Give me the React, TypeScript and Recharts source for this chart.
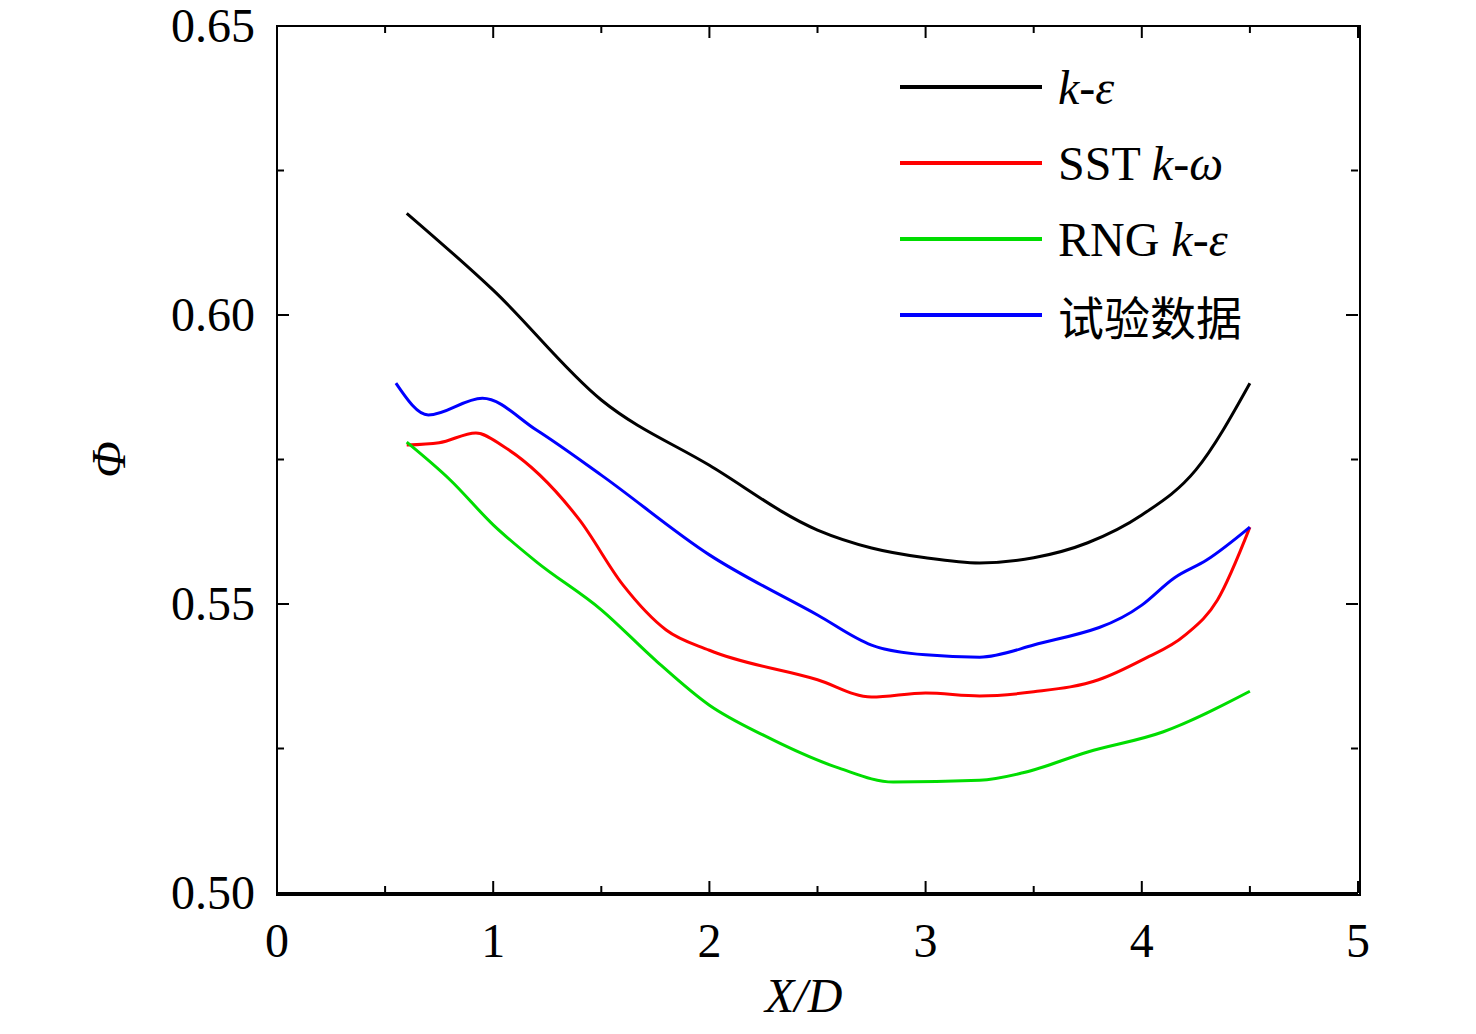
import React from "react";
import { LineChart, Line, XAxis, YAxis } from "recharts";

const kEps = [[0.6,0.6176],[1,0.6043],[1.5,0.5853],[2,0.574],[2.5,0.5628],[2.75,0.5597],[3,0.558],[3.25,0.5571],[3.5,0.558],[3.75,0.5606],[4,0.5654],[4.25,0.5732],[4.5,0.5882]];
const exp = [[0.55,0.5882],[0.7,0.5827],[0.95,0.5856],[1.2,0.5801],[1.5,0.5723],[2,0.5585],[2.5,0.5481],[2.75,0.5429],[3,0.5412],[3.25,0.5408],[3.5,0.5429],[4,0.5498],[4.15,0.5545],[4.3,0.5576],[4.5,0.5633]];
const sst = [[0.6,0.5775],[0.75,0.5779],[0.92,0.5796],[1.05,0.5772],[1.4,0.5645],[1.6,0.5533],[1.8,0.5455],[2,0.542],[2.5,0.5369],[2.75,0.5339],[3,0.5346],[3.25,0.5341],[3.5,0.5348],[3.8,0.5369],[4,0.5403],[4.2,0.5446],[4.35,0.5507],[4.5,0.5633]];
const rng = [[0.6,0.578],[0.8,0.5715],[1,0.5637],[1.2,0.5573],[1.5,0.549],[1.75,0.5403],[2,0.5325],[2.25,0.5273],[2.6,0.5216],[2.85,0.5192],[3.25,0.5195],[3.45,0.5208],[3.75,0.5244],[4.1,0.5279],[4.5,0.5349]];
const xTicks = [0,0.5,1,1.5,2,2.5,3,3.5,4,4.5,5];
const yTicks = [0.5,0.525,0.55,0.575,0.6,0.625,0.65];

const toObj = (a: number[][]) => a.map(([x, y]) => ({ x, y }));
const series = [
  { name: "k-ε", data: toObj(kEps), color: "#000000" },
  { name: "SST k-ω", data: toObj(sst), color: "#ff0000" },
  { name: "RNG k-ε", data: toObj(rng), color: "#00dd00" },
  { name: "试验数据", data: toObj(exp), color: "#0000ff" },
];

const FONT = "Liberation Serif, Times New Roman, serif";
const TOP = 26, BOTTOM = 893, LEFT = 277, RIGHT = 1358;

const XTick = (p: any) => {
  const v = p.payload.value;
  const major = Number.isInteger(v);
  const len = major ? 12 : 7;
  return (
    <g>
      <line x1={p.x} x2={p.x} y1={BOTTOM} y2={BOTTOM - len} stroke="#000" strokeWidth={2} />
      <line x1={p.x} x2={p.x} y1={TOP} y2={TOP + len} stroke="#000" strokeWidth={2} />
      {major && <text x={p.x} y={957} textAnchor="middle" fontSize={48} fontFamily={FONT} fill="#000">{v}</text>}
    </g>
  );
};
const YTick = (p: any) => {
  const v = p.payload.value;
  const major = Math.abs(Math.round(v * 20) - v * 20) < 1e-6;
  const len = major ? 12 : 7;
  return (
    <g>
      <line x1={LEFT} x2={LEFT + len} y1={p.y} y2={p.y} stroke="#000" strokeWidth={2} />
      <line x1={RIGHT} x2={RIGHT - len} y1={p.y} y2={p.y} stroke="#000" strokeWidth={2} />
      {major && <text x={255} y={p.y + 16} textAnchor="end" fontSize={48} fontFamily={FONT} fill="#000">{v.toFixed(2)}</text>}
    </g>
  );
};

export default function App() {
  return (
    <div style={{ position: "relative", width: 1476, height: 1034, margin: -8, background: "#fff" }}>
      <LineChart width={1476} height={1034} margin={{ top: TOP, right: 1476 - RIGHT, bottom: 0, left: 0 }}>
        <XAxis type="number" dataKey="x" domain={[0, 5]} ticks={xTicks} interval={0} height={1034 - BOTTOM} tickLine={false} tick={XTick} stroke="#000" strokeWidth={2} allowDuplicatedCategory={false} />
        <YAxis type="number" domain={[0.5, 0.65]} ticks={yTicks} interval={0} width={LEFT} tickLine={false} tick={YTick} stroke="#000" strokeWidth={2} />
        {series.map((s) => (
          <Line key={s.name} data={s.data} dataKey="y" type="monotone" stroke={s.color} strokeWidth={3} dot={false} isAnimationActive={false} />
        ))}
      </LineChart>
      <div style={{ position: "absolute", left: LEFT - 1, top: TOP - 1, width: RIGHT - LEFT, height: BOTTOM - TOP, border: "2px solid #000", pointerEvents: "none" }} />
      <div style={{ position: "absolute", left: 765, top: 968, fontFamily: FONT, fontSize: 48, fontStyle: "italic" }}>X/D</div>
      <div style={{ position: "absolute", left: 90, top: 432, fontFamily: FONT, fontSize: 48, fontStyle: "italic", transform: "rotate(-90deg)" }}>Φ</div>
      {series.map((s, i) => (
        <div key={s.name} style={{ position: "absolute", left: 900, top: 57 + i * 76, display: "flex", alignItems: "center", height: 60 }}>
          <div style={{ width: 142, height: 4, background: s.color }} />
          <div style={{ marginLeft: 16, fontFamily: FONT, fontSize: 48 }}>
            {i === 0 && <i>k-ε</i>}
            {i === 1 && <>SST <i>k-ω</i></>}
            {i === 2 && <>RNG <i>k-ε</i></>}
            {i === 3 && <span style={{ fontFamily: "Noto Sans CJK SC", fontSize: 46 }}>试验数据</span>}
          </div>
        </div>
      ))}
    </div>
  );
}
